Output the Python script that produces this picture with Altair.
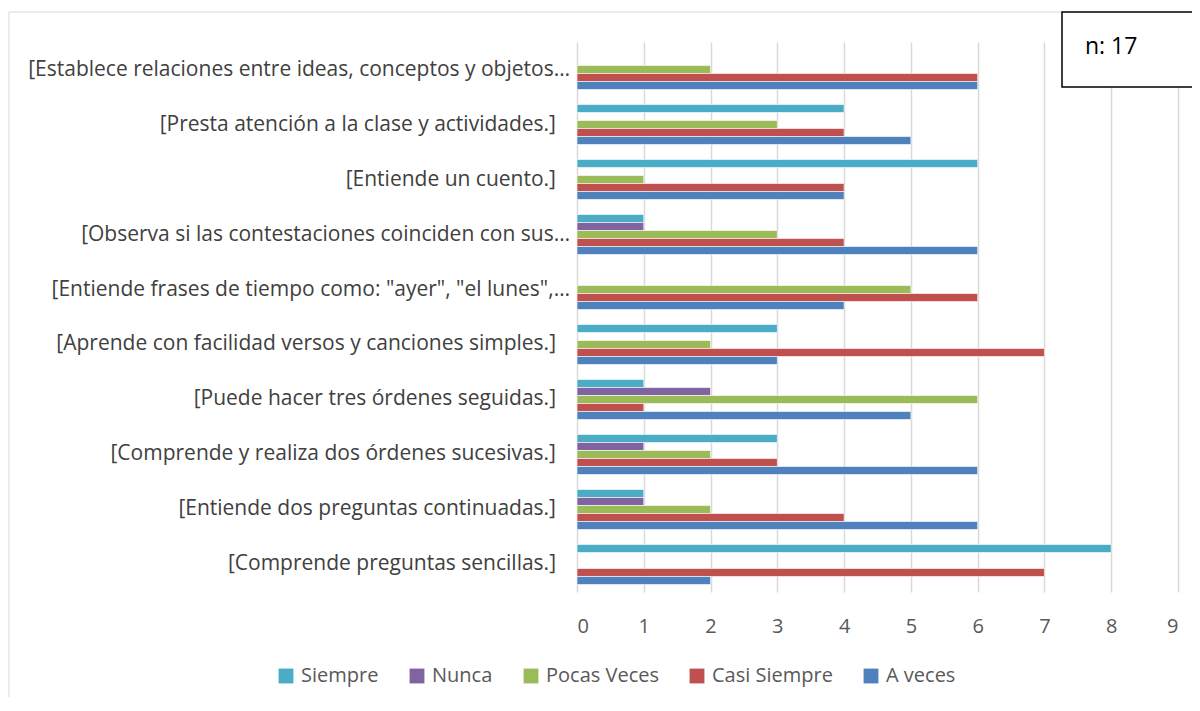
import altair as alt
import pandas as pd

categories = [
    "[Establece relaciones entre ideas, conceptos y objetos…",
    "[Presta atención a la clase y actividades.]",
    "[Entiende un cuento.]",
    "[Observa si las contestaciones coinciden con sus…",
    "[Entiende frases de tiempo como: \"ayer\", \"el lunes\",…",
    "[Aprende con facilidad versos y canciones simples.]",
    "[Puede hacer tres órdenes seguidas.]",
    "[Comprende y realiza dos órdenes sucesivas.]",
    "[Entiende dos preguntas continuadas.]",
    "[Comprende preguntas sencillas.]",
]
series = ["Siempre", "Nunca", "Pocas Veces", "Casi Siempre", "A veces"]
siempre = [0, 4, 6, 1, 0, 3, 1, 3, 1, 8]
nunca = [0, 0, 0, 1, 0, 0, 2, 1, 1, 0]
pocas_veces = [2, 3, 1, 3, 5, 2, 6, 2, 2, 0]
casi_siempre = [6, 4, 4, 4, 6, 7, 1, 3, 4, 7]
a_veces = [6, 5, 4, 6, 4, 3, 5, 6, 6, 2]
colors = ["#4BACC6", "#8064A2", "#9BBB59", "#C0504D", "#4F81BD"]
x_ticks = [0, 1, 2, 3, 4, 5, 6, 7, 8, 9]
note = "n: 17"

FONT = "Open Sans"

rows = []
for s, vals in zip(series, [siempre, nunca, pocas_veces, casi_siempre, a_veces]):
    for c, v in zip(categories, vals):
        rows.append({"category": c, "series": s, "value": v})
df = pd.DataFrame(rows)
cat_df = pd.DataFrame({"category": categories})

yscale = alt.Scale(paddingInner=0.2727, paddingOuter=0.1364)

bars = alt.Chart(df).transform_filter("datum.value > 0").mark_bar(
    stroke="white", strokeWidth=0.6
).encode(
    x=alt.X(
        "value:Q",
        scale=alt.Scale(domain=[0, 9], nice=False),
        axis=alt.Axis(
            values=x_ticks, title=None, grid=True, domain=False, ticks=False,
            labelPadding=24, labelFontSize=20, labelColor="#595959", labelFont=FONT,
            gridColor="#d9d9d9", gridWidth=1.5,
        ),
    ),
    y=alt.Y("category:N", sort=categories, scale=yscale, axis=None),
    yOffset=alt.YOffset("series:N", sort=series, scale=alt.Scale(domain=series)),
    color=alt.Color(
        "series:N",
        scale=alt.Scale(domain=series, range=colors),
        legend=alt.Legend(
            title=None, orient="none", direction="horizontal", legendX=-301, legendY=624,
            symbolType="square", symbolSize=220, symbolStrokeWidth=0,
            labelFontSize=20, labelColor="#595959", labelFont=FONT,
            columnPadding=28, labelOffset=5,
        ),
    ),
)

text_base = alt.Chart(cat_df).mark_text(
    align="right", baseline="middle", font=FONT, fontSize=21, color="#404040"
)
labels_cut = text_base.transform_filter("indexof(datum.category, '…') >= 0").encode(
    y=alt.Y("category:N", sort=categories, scale=yscale, axis=None),
    x=alt.value(-7), text="category:N",
)
labels_full = text_base.transform_filter("indexof(datum.category, '…') < 0").encode(
    y=alt.Y("category:N", sort=categories, scale=yscale, axis=None),
    x=alt.value(-21), text="category:N",
)

one = pd.DataFrame({"a": [0]})
border = alt.Chart(one).mark_rect(fill="transparent", stroke="#d9d9d9", strokeWidth=1).encode(
    x=alt.value(-568), x2=alt.value(640), y=alt.value(-30), y2=alt.value(700)
)
box = alt.Chart(one).mark_rect(fill="white", stroke="black", strokeWidth=1.5).encode(
    x=alt.value(485), x2=alt.value(640), y=alt.value(-30), y2=alt.value(45)
)
label = alt.Chart(one).mark_text(
    text=note, align="left", baseline="middle", fontSize=23, font=FONT, color="black"
).encode(x=alt.value(508), y=alt.value(5))

chart = alt.layer(border, bars, labels_cut, labels_full, box, label).properties(
    width=601, height=550,
    autosize=alt.AutoSizeParams(type="none"),
    padding={"left": 569, "top": 34, "right": 14, "bottom": 105},
).configure_view(stroke=None)

chart.save("out.html", embed_options={"renderer": "svg", "actions": False})
